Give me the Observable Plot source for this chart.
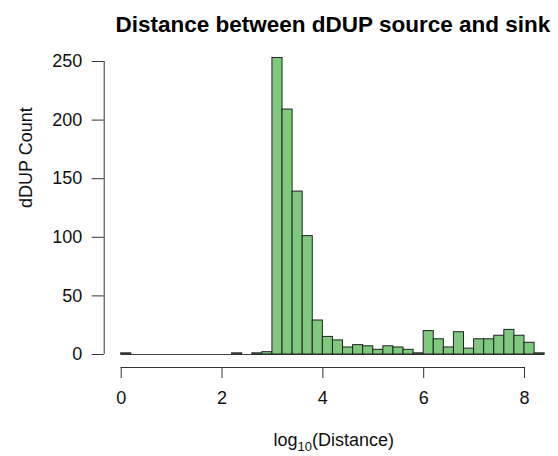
<!DOCTYPE html>
<html>
<head>
<meta charset="utf-8">
<script src="https://cdn.jsdelivr.net/npm/d3@7"></script>
<script src="https://cdn.jsdelivr.net/npm/@observablehq/plot@0.6"></script>
<style>
  html, body { margin: 0; padding: 0; background: #fff; }
  svg { font-family: "Liberation Sans", Arial, sans-serif; }
</style>
</head>
<body>
<div id="chart"></div>
<script>
// Histogram bins of log10(distance): left edges, right edges and counts
const binLeft  = [0.0,0.2,0.4,0.6,0.8,1.0,1.2,1.4,1.6,1.8,2.0,2.2,2.4,2.6,2.8,3.0,3.2,3.4,3.6,3.8,4.0,4.2,4.4,4.6,4.8,5.0,5.2,5.4,5.6,5.8,6.0,6.2,6.4,6.6,6.8,7.0,7.2,7.4,7.6,7.8,8.0,8.2];
const binRight = [0.2,0.4,0.6,0.8,1.0,1.2,1.4,1.6,1.8,2.0,2.2,2.4,2.6,2.8,3.0,3.2,3.4,3.6,3.8,4.0,4.2,4.4,4.6,4.8,5.0,5.2,5.4,5.6,5.8,6.0,6.2,6.4,6.6,6.8,7.0,7.2,7.4,7.6,7.8,8.0,8.2,8.4];
const counts   = [1,0,0,0,0,0,0,0,0,0,0,1,0,1,2,253,209,139,101,29,15,12,6,8,7,4,7,6,4,1,20,13,6,19,5,13,13,16,21,16,10,1];
const xTicks = [0, 2, 4, 6, 8];
const yTicks = [0, 50, 100, 150, 200, 250];
const titleText = "Distance between dDUP source and sink";
const xLabelParts = ["log", "10", "(Distance)"];
const yLabel = "dDUP Count";

const bins = counts.map((c, i) => ({x1: binLeft[i], x2: binRight[i], count: c}));
const xLabel = xLabelParts.join("");

const chart = Plot.plot({
  width: 558,
  height: 456,
  marginLeft: 120.7,
  marginRight: 34,
  marginTop: 61,
  marginBottom: 102,
  style: {fontFamily: "'Liberation Sans', Arial, sans-serif", background: "#fff"},
  x: {domain: [xTicks[0], xTicks[xTicks.length - 1]]},
  y: {domain: [yTicks[0], yTicks[yTicks.length - 1]]},
  marks: [
    // baseline for empty bins
    Plot.ruleY([0], {x1: binLeft[0], x2: binRight[binRight.length - 1], stroke: "#444", strokeWidth: 1}),
    Plot.rectY(bins, {x1: "x1", x2: "x2", y: "count", fill: "#7fc97f", stroke: "#222", strokeWidth: 1}),
    // y axis
    Plot.ruleX([0], {y1: yTicks[0], y2: yTicks[yTicks.length - 1], dx: -17, stroke: "#333"}),
    Plot.axisY({ticks: yTicks, tickSize: 12, tickPadding: 10, dx: -17, fontSize: 18, stroke: "#333", color: "#111", label: null}),
    // x axis
    Plot.ruleY([0], {x1: xTicks[0], x2: xTicks[xTicks.length - 1], dy: 13, stroke: "#333"}),
    Plot.axisX({ticks: xTicks, tickSize: 11, tickPadding: 13, dy: 13, fontSize: 18, stroke: "#333", color: "#111", label: null}),
    // labels
    Plot.text([xLabel], {frameAnchor: "bottom", dx: 11, dy: 86, fontSize: 18, fill: "#111", lineAnchor: "middle"}),
    Plot.text([yLabel], {frameAnchor: "left", dx: -95, rotate: -90, fontSize: 18, fill: "#111", lineAnchor: "middle"}),
    Plot.text([titleText], {frameAnchor: "top", dx: 10, dy: -37, fontSize: 22.5, fontWeight: "bold", fill: "#000", lineAnchor: "middle"})
  ]
});
// subscript for the x-axis label
for (const t of chart.querySelectorAll("text")) {
  if (t.textContent === xLabel) {
    t.textContent = "";
    const ns = "http://www.w3.org/2000/svg";
    const a = document.createElementNS(ns, "tspan"); a.textContent = xLabelParts[0];
    const b = document.createElementNS(ns, "tspan"); b.textContent = xLabelParts[1];
    b.setAttribute("font-size", "13"); b.setAttribute("dy", "5");
    const c = document.createElementNS(ns, "tspan"); c.textContent = xLabelParts[2];
    c.setAttribute("dy", "-5");
    t.append(a, b, c);
  }
}
document.getElementById("chart").appendChild(chart);
</script>
</body>
</html>
